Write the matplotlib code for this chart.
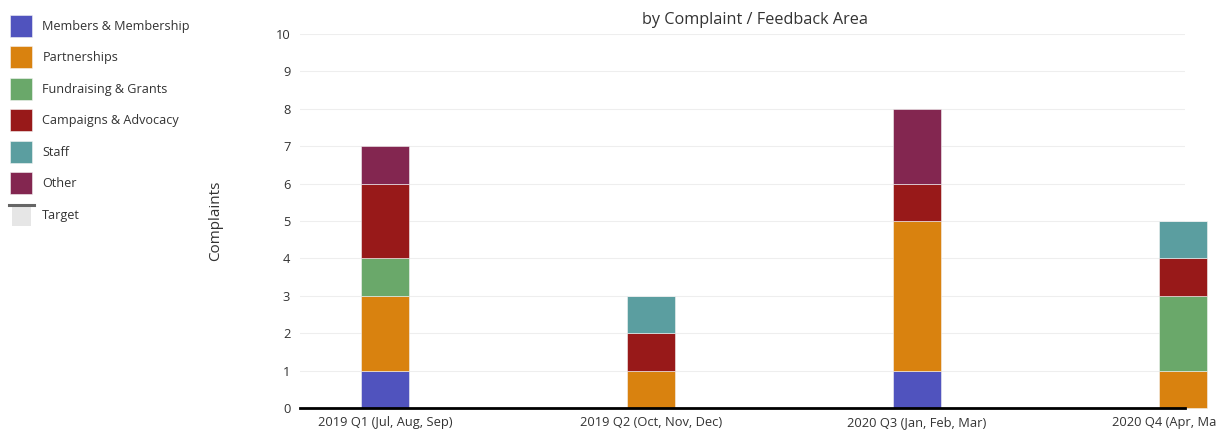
import numpy as np
import matplotlib.pyplot as plt
from matplotlib.patches import Patch, Rectangle
from matplotlib.lines import Line2D

plt.rcParams['font.family'] = ['Open Sans', 'DejaVu Sans']

# data
quarters = ['2019 Q1 (Jul, Aug, Sep)', '2019 Q2 (Oct, Nov, Dec)',
            '2020 Q3 (Jan, Feb, Mar)', '2020 Q4 (Apr, May, Jun)']
areas = ['Members & Membership', 'Partnerships', 'Fundraising & Grants',
         'Campaigns & Advocacy', 'Staff', 'Other']
members = [1, 0, 1, 0]
partnerships = [2, 1, 4, 1]
fundraising = [1, 0, 0, 2]
campaigns = [2, 1, 1, 1]
staff = [0, 1, 0, 1]
other = [1, 0, 2, 0]
series = [members, partnerships, fundraising, campaigns, staff, other]
colors = ['#5053BE', '#D9820F', '#6AA86A', '#981919', '#5B9EA0', '#832650']
yticks = list(range(0, 11))


class TargetHandler:
    # grey square with a dark bar on top
    def legend_artist(self, legend, orig_handle, fontsize, handlebox):
        x0, y0 = -handlebox.xdescent, -handlebox.ydescent
        w, h = handlebox.width, handlebox.height
        rect = Rectangle((x0 + 1, y0), w - 2, h * 0.86, facecolor='#E6E6E6',
                         edgecolor='none', transform=handlebox.get_transform())
        line = Line2D([x0 - 1, x0 + w + 1], [y0 + h * 0.93, y0 + h * 0.93], color='#666666',
                      linewidth=2.2, transform=handlebox.get_transform())
        handlebox.add_artist(rect)
        handlebox.add_artist(line)
        return rect


fig = plt.figure(figsize=(12.16, 4.34), dpi=100)
ax = fig.add_axes([300 / 1216, 1 - 408 / 434, 885 / 1216, 374 / 434])

x = np.arange(len(quarters))
bottom = np.zeros(len(quarters))
for vals, c, name in zip(series, colors, areas):
    ax.bar(x, vals, width=0.18, bottom=bottom, color=c, edgecolor='#f4f4f4',
           linewidth=0.4, label=name, clip_on=False, zorder=3)
    bottom += np.array(vals)

ax.set_xlim(-0.32, 3.008)
ax.set_ylim(0, 10)
ax.set_yticks(yticks)
ax.set_xticks(x)
ax.set_xticklabels(quarters)
ax.grid(axis='y', color='#EEEEEE', linewidth=0.8, zorder=0)
for s in ['top', 'right', 'left']:
    ax.spines[s].set_visible(False)
ax.spines['bottom'].set_color('black')
ax.spines['bottom'].set_linewidth(2)
ax.spines['bottom'].set_zorder(4)
ax.tick_params(axis='both', length=0, labelsize=9.3, colors='#333333')
ax.tick_params(axis='y', pad=7)
ax.tick_params(axis='x', pad=6)
for lbl in ax.get_xticklabels():
    lbl.set_clip_on(False)

ax.set_title('by Complaint / Feedback Area', fontsize=11.7, color='#333333', pad=7,
             x=0.514)
ax.set_ylabel('Complaints', fontsize=11, color='#333333', labelpad=38)

handles = [Patch(facecolor=c, edgecolor='#f4f4f4', linewidth=0.4) for c in colors]
handles.append(Patch(facecolor='#E6E6E6'))
labels = areas + ['Target']
fig.legend(handles, labels, loc='upper left', bbox_to_anchor=(-0.002, 0.995),
           frameon=False, fontsize=9.1, handlelength=1.74, handleheight=2.3,
           labelspacing=0.75, handletextpad=0.8, labelcolor='#333333',
           borderpad=0.5, handler_map={handles[-1]: TargetHandler()})

fig.savefig('out.png', dpi=100)
